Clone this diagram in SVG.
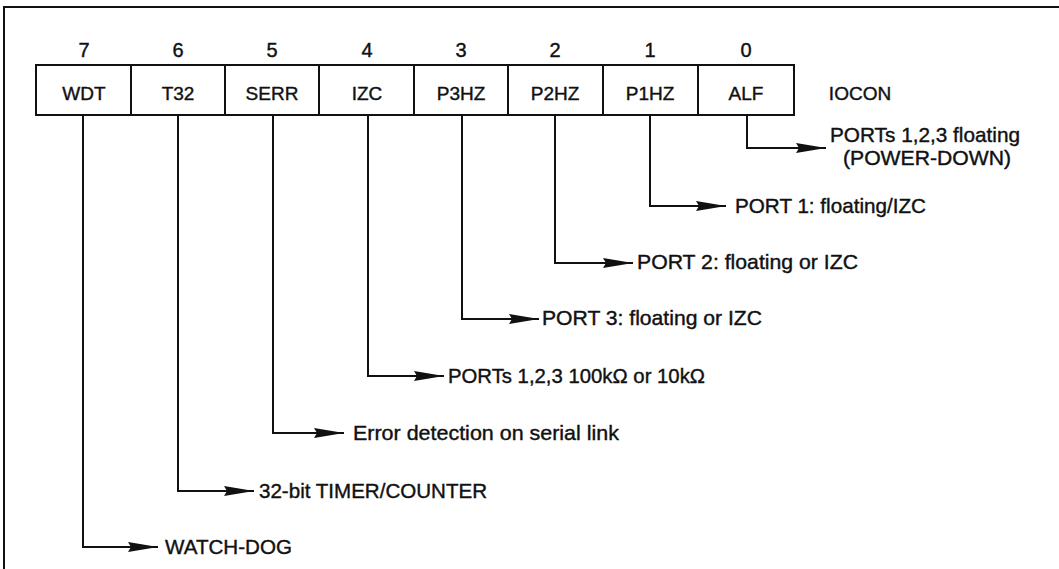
<svg xmlns="http://www.w3.org/2000/svg" width="1059" height="569" viewBox="0 0 1059 569">
<defs>
<style>
text{font-family:"Liberation Sans",Arial,sans-serif;fill:#111;stroke:#111;stroke-width:0.4}
.num{font-size:20px;text-anchor:middle}
.cell{font-size:19px;text-anchor:middle}
.lbl{font-size:21px}
.box{fill:#fff;stroke:#111;stroke-width:2}
.wire{fill:none;stroke:#111;stroke-width:2;marker-end:url(#arr)}
</style>
<marker id="arr" markerUnits="userSpaceOnUse" markerWidth="32" markerHeight="12" refX="30" refY="6" orient="auto">
<path d="M0,1 L30,6 L0,11 L3,6 Z" fill="#111"/>
</marker>
</defs>
<rect width="1059" height="569" fill="#fff"/>
<path d="M4,569 V7 H1059" fill="none" stroke="#111" stroke-width="2"/>
<g id="register">
<rect class="box" x="36" y="65" width="758" height="50"/>
<path d="M131,65V115M225,65V115M319,65V115M414,65V115M508,65V115M603,65V115M698,65V115" stroke="#111" stroke-width="2"/>
</g>
<g id="bit7"><text class="num" x="84" y="57">7</text><text class="cell" x="84" y="100">WDT</text></g>
<g id="bit6"><text class="num" x="178" y="57">6</text><text class="cell" x="178" y="100">T32</text></g>
<g id="bit5"><text class="num" x="272" y="57">5</text><text class="cell" x="272" y="100">SERR</text></g>
<g id="bit4"><text class="num" x="367" y="57">4</text><text class="cell" x="367" y="100">IZC</text></g>
<g id="bit3"><text class="num" x="461" y="57">3</text><text class="cell" x="461" y="100">P3HZ</text></g>
<g id="bit2"><text class="num" x="555" y="57">2</text><text class="cell" x="555" y="100">P2HZ</text></g>
<g id="bit1"><text class="num" x="650" y="57">1</text><text class="cell" x="650" y="100">P1HZ</text></g>
<g id="bit0"><text class="num" x="746" y="57">0</text><text class="cell" x="746" y="100">ALF</text></g>
<g id="iocon"><text class="cell" x="860" y="100">IOCON</text></g>
<g id="connectors">
<path class="wire" d="M747,115 V148 H826"/>
<path class="wire" d="M650,115 V206 H726"/>
<path class="wire" d="M555,115 V263 H633"/>
<path class="wire" d="M462,115 V319 H539"/>
<path class="wire" d="M368,115 V376 H444"/>
<path class="wire" d="M273,115 V433 H344"/>
<path class="wire" d="M178,115 V491 H254"/>
<path class="wire" d="M83,115 V547 H158"/>
</g>
<g id="label-alf">
<text class="lbl" x="830" y="142" textLength="190" lengthAdjust="spacingAndGlyphs">PORTs 1,2,3 floating</text>
<text class="lbl" x="843" y="165" textLength="168" lengthAdjust="spacingAndGlyphs">(POWER-DOWN)</text>
</g>
<g id="label-p1"><text class="lbl" x="735" y="213" textLength="191" lengthAdjust="spacingAndGlyphs">PORT 1: floating/IZC</text></g>
<g id="label-p2"><text class="lbl" x="637" y="269" textLength="221" lengthAdjust="spacingAndGlyphs">PORT 2: floating or IZC</text></g>
<g id="label-p3"><text class="lbl" x="542" y="325" textLength="220" lengthAdjust="spacingAndGlyphs">PORT 3: floating or IZC</text></g>
<g id="label-izc"><text class="lbl" x="448" y="383" textLength="257" lengthAdjust="spacingAndGlyphs">PORTs 1,2,3 100kΩ  or 10kΩ</text></g>
<g id="label-serr"><text class="lbl" x="353" y="440" textLength="266" lengthAdjust="spacingAndGlyphs">Error detection on serial link</text></g>
<g id="label-t32"><text class="lbl" x="259" y="498" textLength="228" lengthAdjust="spacingAndGlyphs">32-bit TIMER/COUNTER</text></g>
<g id="label-wdt"><text class="lbl" x="165" y="554" textLength="127" lengthAdjust="spacingAndGlyphs">WATCH-DOG</text></g>
</svg>
